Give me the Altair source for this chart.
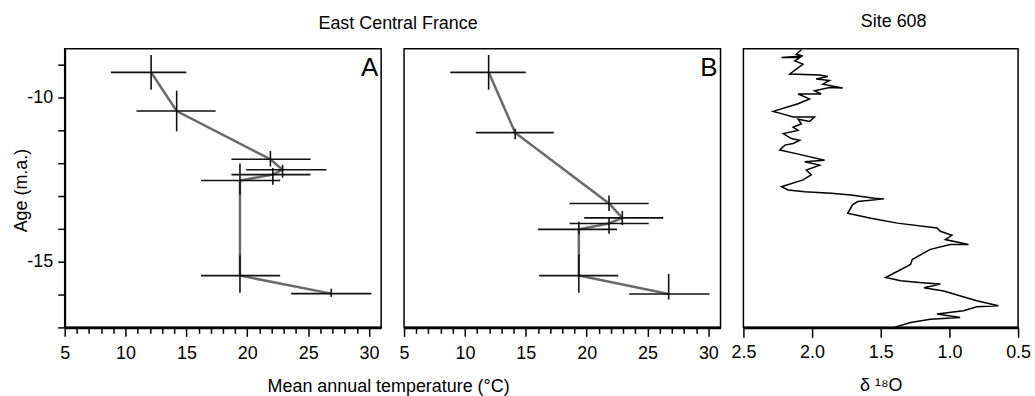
import altair as alt
import pandas as pd

# ---------------- Panel A (East Central France) ----------------
a_temp = [12.1, 14.2, 21.9, 22.9, 22.1, 19.4, 19.4, 26.9]
a_age = [-9.22, -10.40, -11.87, -12.19, -12.34, -12.52, -15.42, -15.97]
a_tmin = [8.8, 10.9, 18.7, 19.9, 18.7, 16.2, 16.2, 23.6]
a_tmax = [15.0, 17.4, 25.2, 26.5, 25.2, 22.7, 22.7, 30.2]
a_atop = [-8.69, -9.78, -11.62, -12.04, -12.14, -12.00, -14.81, -15.82]
a_abot = [-9.75, -11.02, -12.09, -12.43, -12.65, -12.95, -15.94, -16.07]

# ---------------- Panel B ----------------
b_temp = [11.95, 14.13, 21.84, 22.93, 21.84, 19.36, 19.36, 26.74]
b_age = [-9.22, -11.06, -13.22, -13.66, -13.83, -14.01, -15.42, -15.98]
b_tmin = [8.8, 10.9, 18.6, 19.8, 18.6, 16.0, 16.1, 23.5]
b_tmax = [15.0, 17.3, 25.1, 26.3, 25.1, 22.5, 22.6, 30.1]
b_atop = [-8.69, -10.94, -12.98, -13.45, -13.65, -13.78, -14.78, -15.37]
b_abot = [-9.75, -11.26, -13.45, -13.88, -14.14, -14.16, -15.94, -16.15]

# ---------------- Panel C (Site 608, d18O) ----------------
c_d18o = [2.078, 2.115, 2.066, 2.223, 2.090, 2.126, 2.066, 2.162, 1.945, 1.885,
          1.970, 1.873, 1.922, 1.777, 1.873, 1.982, 1.934, 2.102, 2.018, 2.102,
          2.283, 2.223, 2.138, 1.982, 2.018, 2.102, 2.078, 2.138, 2.102, 2.210,
          2.151, 2.090, 2.138, 2.198, 2.235, 2.115, 1.909, 2.054, 1.945, 2.042,
          2.006, 2.066, 2.223, 2.175, 2.054, 1.862, 1.717, 1.548, 1.475, 1.668,
          1.705, 1.741, 1.572, 1.379, 1.090, 1.066, 0.982, 1.030, 0.861, 0.994,
          1.138, 1.186, 1.271, 1.283, 1.464, 1.355, 1.199, 1.066, 1.186, 1.042,
          0.801, 0.644, 0.801, 0.897, 1.090, 0.922, 1.138, 1.283, 1.403]
c_age = [-8.53, -8.67, -8.72, -8.77, -8.77, -8.87, -8.97, -9.27, -9.30, -9.35,
         -9.42, -9.47, -9.58, -9.70, -9.68, -9.78, -9.88, -9.88, -10.03, -10.18,
         -10.41, -10.48, -10.58, -10.58, -10.72, -10.65, -10.79, -10.89, -10.99, -11.09,
         -11.24, -11.29, -11.39, -11.44, -11.59, -11.70, -11.90, -11.95, -12.05, -12.20,
         -12.35, -12.50, -12.71, -12.81, -12.86, -12.91, -12.96, -13.06, -13.08, -13.16,
         -13.26, -13.52, -13.67, -13.82, -13.97, -14.07, -14.19, -14.32, -14.47, -14.47,
         -14.62, -14.73, -14.93, -15.08, -15.48, -15.58, -15.64, -15.68, -15.79, -15.89,
         -16.19, -16.34, -16.37, -16.49, -16.59, -16.70, -16.75, -16.85, -17.00]

panel_letters = ["A", "B"]
temp_ticks = list(range(5, 31))
age_ticks = list(range(-17, -8))
d18o_ticks = [2.5, 2.0, 1.5, 1.0, 0.5]

FONT = "Liberation Sans"
W_AB, W_C, H = 318, 276, 280
AGE_DOMAIN = [-17, -8.5]
TEMP_DOMAIN = [5, 31]


def temp_axis(x_title):
    common = dict(values=temp_ticks, tickCount=100, format="d",
                  labelExpr="datum.value % 5 === 0 ? datum.label : ''",
                  tickSize={"expr": "datum.value % 5 === 0 ? 9 : 6"},
                  labelPadding=8, domainWidth=3, tickWidth=1.5, grid=False,
                  labelOverlap=False, labelFlush=False)
    if x_title:
        return alt.Axis(title=x_title, titleX=325, titleY=64,
                        titleBaseline="alphabetic", titleAlign="center", **common)
    return alt.Axis(title=None, **common)


def temp_panel(temp, age, tmin, tmax, atop, abot, letter, with_y_axis, x_title):
    df = pd.DataFrame({"temp": temp, "age": age, "tmin": tmin, "tmax": tmax,
                       "atop": atop, "abot": abot, "order": list(range(len(temp)))})
    if with_y_axis:
        yaxis = alt.Axis(values=age_ticks, tickCount=100,
                         labelExpr="datum.value % 5 === 0 ? '-' + abs(datum.value) : ''",
                         tickSize=7, labelPadding=5, domainWidth=2, tickWidth=1.5,
                         grid=False, labelOverlap=False, labelFlush=False,
                         title="Age (m.a.)", titleX=-43, titleY=H / 2 + 2,
                         titleAngle=-90, titleBaseline="middle", titleAlign="center")
    else:
        yaxis = None
    xs = alt.Scale(domain=TEMP_DOMAIN, nice=False, zero=False)
    ys = alt.Scale(domain=AGE_DOMAIN, nice=False, zero=False)
    base = alt.Chart(df)
    line = base.mark_line(color="#6a6a6a", strokeWidth=2.5).encode(
        x=alt.X("temp:Q", scale=xs, axis=temp_axis(x_title)),
        y=alt.Y("age:Q", scale=ys, axis=yaxis),
        order="order:Q")
    hbar = base.mark_rule(color="#111111", strokeWidth=1.6).encode(
        x="tmin:Q", x2="tmax:Q", y="age:Q")
    vbar = base.mark_rule(color="#111111", strokeWidth=1.6).encode(
        y="atop:Q", y2="abot:Q", x="temp:Q")
    lab = alt.Chart(pd.DataFrame({"t": [letter]})).mark_text(
        font=FONT, fontSize=26, align="right", baseline="top", color="black"
    ).encode(text="t:N", x=alt.value(W_AB - 3), y=alt.value(6))
    return alt.layer(line, hbar, vbar, lab).properties(width=W_AB, height=H)


chartA = temp_panel(a_temp, a_age, a_tmin, a_tmax, a_atop, a_abot, panel_letters[0],
                    True, "Mean annual temperature (°C)").properties(
    title=alt.TitleParams("East Central France", dx=176, offset=16, anchor="middle",
                          font=FONT, fontSize=18, fontWeight="normal"))
chartB = temp_panel(b_temp, b_age, b_tmin, b_tmax, b_atop, b_abot, panel_letters[1],
                    False, None).properties(
    title=alt.TitleParams(" ", offset=16, font=FONT, fontSize=18))

dfc = pd.DataFrame({"d18o": c_d18o, "age": c_age, "order": list(range(len(c_age)))})
chartC = alt.Chart(dfc).mark_line(color="black", strokeWidth=1.5).encode(
    x=alt.X("d18o:Q",
            scale=alt.Scale(domain=[0.5, 2.5], reverse=True, nice=False, zero=False),
            axis=alt.Axis(values=d18o_ticks, tickCount=20, format=".1f", tickSize=10,
                          labelPadding=6, domainWidth=3, tickWidth=1.5, grid=False,
                          labelOverlap=False, labelFlush=False, title="δ ¹⁸O",
                          titleY=63, titleBaseline="alphabetic")),
    y=alt.Y("age:Q", scale=alt.Scale(domain=AGE_DOMAIN, nice=False, zero=False), axis=None),
    order="order:Q",
).properties(width=W_C, height=H,
             title=alt.TitleParams("Site 608", dx=13, offset=16, anchor="middle",
                                   font=FONT, fontSize=18, fontWeight="normal"))

chart = alt.hconcat(chartA, chartB, chartC, spacing=23, bounds="flush").properties(
    padding={"left": 12, "top": 11, "right": 3, "bottom": 3},
    background="white"
).configure_view(
    stroke="black", strokeWidth=1.5
).configure_axis(
    grid=False, domainColor="black", tickColor="black", labelColor="black",
    titleColor="black", labelFont=FONT, titleFont=FONT, labelFontSize=18,
    titleFontSize=18, titleFontWeight="normal"
)

chart.save("out.html", embed_options={"renderer": "svg", "actions": False})
